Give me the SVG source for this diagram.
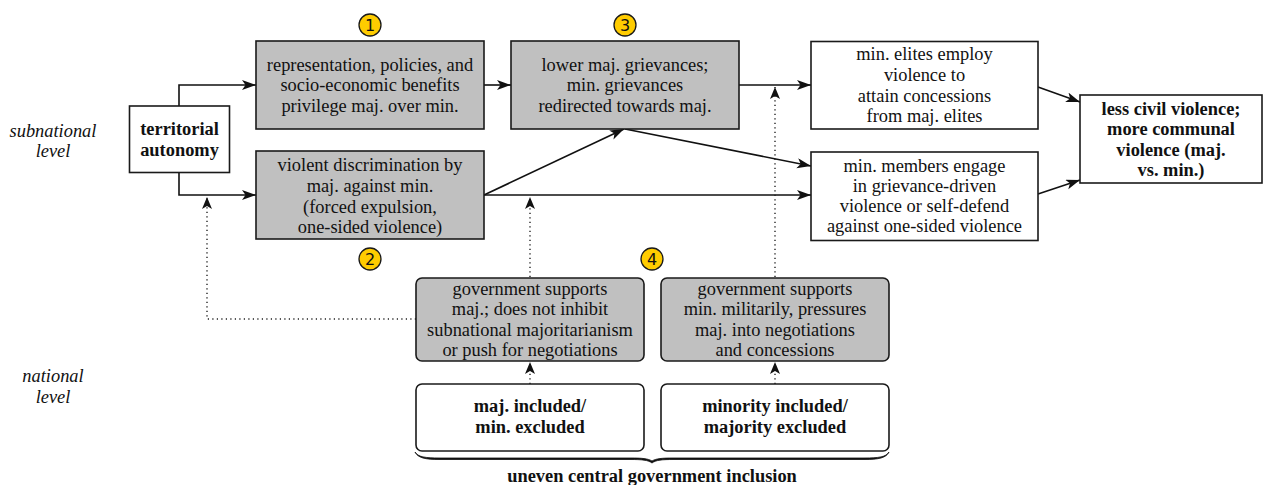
<svg xmlns="http://www.w3.org/2000/svg" width="1268" height="485" viewBox="0 0 1268 485" font-family="'Liberation Serif', 'Times New Roman', serif">
<style>
  .box { stroke: #1a1a1a; stroke-width: 1.6; }
  .g { fill: #c0c0c0; }
  .w { fill: #ffffff; }
  text { font-size: 18.4px; fill: #111; text-anchor: middle; }
  .b { font-weight: bold; }
  .i { font-style: italic; }
  .num { font-size: 16px; }
  .badge { fill: #ffcc00; stroke: #1a1a1a; stroke-width: 1.3; }
  .edge { fill: none; stroke: #111; stroke-width: 1.6; }
  .dot { fill: none; stroke: #222; stroke-width: 1.4; stroke-dasharray: 1.2 3.3; }
</style>
<defs>
  <marker id="ah" markerUnits="userSpaceOnUse" markerWidth="16" markerHeight="12" refX="14" refY="5" orient="auto">
    <path d="M0,0 L14,5 L0,10 L3.5,5 Z" fill="#111"/>
  </marker>
  <marker id="ahs" markerUnits="userSpaceOnUse" markerWidth="14" markerHeight="12" refX="12" refY="5" orient="auto">
    <path d="M0,0 L12,5 L0,10 L3,5 Z" fill="#111"/>
  </marker>
</defs>

<g id="labels">
  <text class="i" x="53" y="137">subnational</text>
  <text class="i" x="53" y="157">level</text>
  <text class="i" x="53" y="382">national</text>
  <text class="i" x="53" y="403">level</text>
</g>

<g id="connectors">
  <path class="edge" d="M179,106 V85 H256" marker-end="url(#ah)"/>
  <path class="edge" d="M179,172 V195 H256" marker-end="url(#ah)"/>
  <path class="edge" d="M484,85 H511" marker-end="url(#ah)"/>
  <path class="edge" d="M739,85 H811" marker-end="url(#ah)"/>
  <path class="edge" d="M484,195 L624,129" marker-end="url(#ah)"/>
  <path class="edge" d="M625,129 L811,166" marker-end="url(#ah)"/>
  <path class="edge" d="M484,195 H811" marker-end="url(#ah)"/>
  <path class="edge" d="M1038,87 L1080,102" marker-end="url(#ah)"/>
  <path class="edge" d="M1038,194 L1080,180" marker-end="url(#ah)"/>
  <path class="dot" d="M530,277 V197" marker-end="url(#ahs)"/>
  <path class="dot" d="M775,277 V87" marker-end="url(#ahs)"/>
  <path class="dot" d="M416,319 H207 V197" marker-end="url(#ahs)"/>
  <path class="dot" d="M530,384 V362" marker-end="url(#ahs)"/>
  <path class="dot" d="M775,384 V362" marker-end="url(#ahs)"/>
</g>

<g id="territorial">
  <rect class="box w" x="129.5" y="106" width="100" height="66.5"/>
  <text class="b" x="179.5" y="135">territorial</text>
  <text class="b" x="179.5" y="156">autonomy</text>
</g>

<g id="n1">
  <rect class="box g" x="256" y="41" width="228" height="88"/>
  <text x="370" y="71">representation, policies, and</text>
  <text x="370" y="91">socio-economic benefits</text>
  <text x="370" y="112">privilege maj. over min.</text>
</g>

<g id="n2">
  <rect class="box g" x="256" y="151" width="228" height="88"/>
  <text x="370" y="171">violent discrimination by</text>
  <text x="370" y="192">maj. against min.</text>
  <text x="370" y="213">(forced expulsion,</text>
  <text x="370" y="233">one-sided violence)</text>
</g>

<g id="n3">
  <rect class="box g" x="511" y="41" width="228" height="88"/>
  <text x="625" y="71">lower maj. grievances;</text>
  <text x="625" y="91">min. grievances</text>
  <text x="625" y="112">redirected towards maj.</text>
</g>

<g id="elites">
  <rect class="box w" x="811" y="41.5" width="227" height="87.5"/>
  <text x="924.5" y="60">min. elites employ</text>
  <text x="924.5" y="81">violence to</text>
  <text x="924.5" y="102">attain concessions</text>
  <text x="924.5" y="122">from maj. elites</text>
</g>

<g id="members">
  <rect class="box w" x="811" y="152" width="227" height="88.5"/>
  <text x="924.5" y="172">min. members engage</text>
  <text x="924.5" y="192">in grievance-driven</text>
  <text x="924.5" y="212">violence or self-defend</text>
  <text x="924.5" y="232">against one-sided violence</text>
</g>

<g id="outcome">
  <rect class="box w" x="1080" y="95" width="182" height="88"/>
  <text class="b" x="1171" y="115">less civil violence;</text>
  <text class="b" x="1171" y="135">more communal</text>
  <text class="b" x="1171" y="156">violence (maj.</text>
  <text class="b" x="1171" y="176">vs. min.)</text>
</g>

<g id="gov1">
  <rect class="box g" x="416" y="278" width="228" height="83" rx="6"/>
  <text x="530" y="295">government supports</text>
  <text x="530" y="315">maj.; does not inhibit</text>
  <text x="530" y="336">subnational majoritarianism</text>
  <text x="530" y="356">or push for negotiations</text>
</g>

<g id="gov2">
  <rect class="box g" x="661" y="278" width="228" height="83" rx="6"/>
  <text x="775" y="295">government supports</text>
  <text x="775" y="315">min. militarily, pressures</text>
  <text x="775" y="336">maj. into negotiations</text>
  <text x="775" y="356">and concessions</text>
</g>

<g id="majinc">
  <rect class="box w" x="416" y="384" width="228" height="67" rx="6"/>
  <text class="b" x="530" y="412">maj. included/</text>
  <text class="b" x="530" y="433">min. excluded</text>
</g>

<g id="mininc">
  <rect class="box w" x="661" y="384" width="228" height="67" rx="6"/>
  <text class="b" x="775" y="412">minority included/</text>
  <text class="b" x="775" y="433">majority excluded</text>
</g>

<g id="brace">
  <path d="M415,452 C418,458 425,459.5 440,459.5 L630,459.5 C642,459.5 648,460 652,463 C656,460 662,459.5 674,459.5 L864,459.5 C879,459.5 886,458 889,452 C886,457 879,458 864,458 L674,458 C662,458 656,458.5 652,461 C648,458.5 642,458 630,458 L440,458 C425,458 418,457 415,452 Z" fill="#111" stroke="#111" stroke-width="0.8"/>
  <text class="b" x="652" y="482">uneven central government inclusion</text>
</g>

<g id="badges" font-family="'DejaVu Sans', 'Liberation Sans', sans-serif">
  <circle class="badge" cx="370" cy="25" r="11"/>
  <text class="num" x="370" y="30.5">1</text>
  <circle class="badge" cx="370" cy="259" r="11"/>
  <text class="num" x="370" y="264.5">2</text>
  <circle class="badge" cx="625" cy="25" r="11"/>
  <text class="num" x="625" y="30.5">3</text>
  <circle class="badge" cx="652" cy="259" r="11"/>
  <text class="num" x="652" y="264.5">4</text>
</g>
</svg>
